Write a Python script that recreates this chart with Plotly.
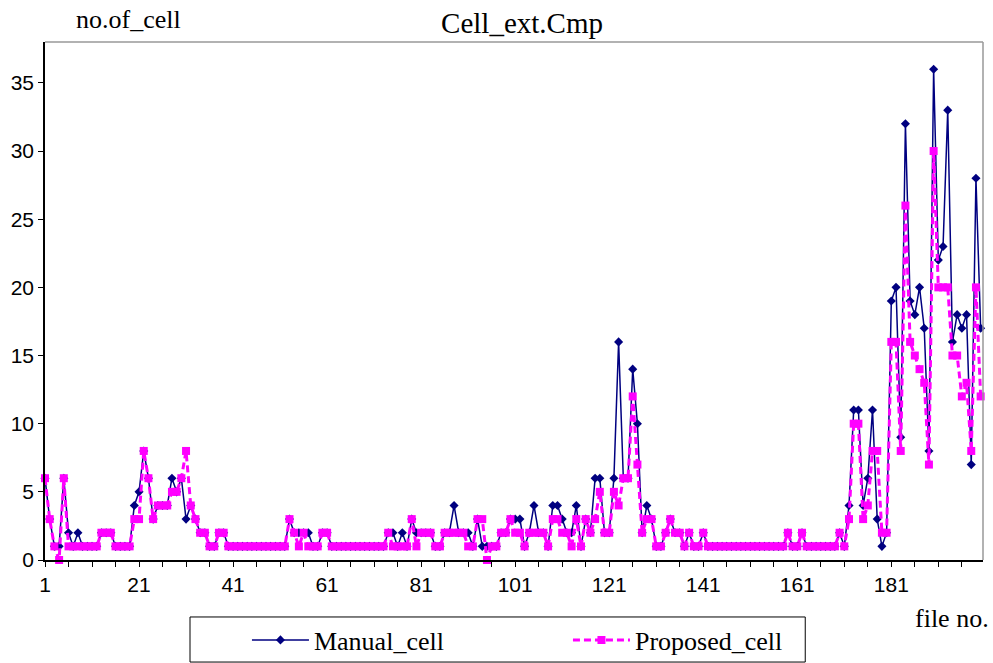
import plotly.graph_objects as go

file_no = list(range(1, 201))

manual_cell = [
    6, 3, 1, 1, 6, 2, 1, 2, 1, 1,
    1, 1, 2, 2, 2, 1, 1, 1, 1, 4,
    5, 8, 6, 3, 4, 4, 4, 6, 5, 6,
    3, 4, 3, 2, 2, 1, 1, 2, 2, 1,
    1, 1, 1, 1, 1, 1, 1, 1, 1, 1,
    1, 1, 3, 2, 2, 2, 2, 1, 1, 2,
    2, 1, 1, 1, 1, 1, 1, 1, 1, 1,
    1, 1, 1, 2, 2, 1, 2, 1, 3, 2,
    2, 2, 2, 1, 1, 2, 2, 4, 2, 2,
    2, 1, 3, 1, 1, 1, 1, 2, 2, 3,
    3, 3, 1, 2, 4, 2, 2, 1, 4, 4,
    3, 2, 2, 4, 1, 3, 2, 6, 6, 2,
    2, 6, 16, 6, 6, 14, 10, 2, 4, 3,
    1, 1, 2, 3, 2, 2, 1, 2, 1, 1,
    2, 1, 1, 1, 1, 1, 1, 1, 1, 1,
    1, 1, 1, 1, 1, 1, 1, 1, 2, 1,
    1, 2, 1, 1, 1, 1, 1, 1, 1, 2,
    1, 4, 11, 11, 4, 6, 11, 3, 1, 2,
    19, 20, 9, 32, 19, 18, 20, 17, 8, 36,
    22, 23, 33, 16, 18, 17, 18, 7, 28, 17,
]

proposed_cell = [
    6, 3, 1, 0, 6, 1, 1, 1, 1, 1,
    1, 1, 2, 2, 2, 1, 1, 1, 1, 3,
    3, 8, 6, 3, 4, 4, 4, 5, 5, 6,
    8, 4, 3, 2, 2, 1, 1, 2, 2, 1,
    1, 1, 1, 1, 1, 1, 1, 1, 1, 1,
    1, 1, 3, 2, 1, 2, 1, 1, 1, 2,
    2, 1, 1, 1, 1, 1, 1, 1, 1, 1,
    1, 1, 1, 2, 1, 1, 1, 1, 3, 1,
    2, 2, 2, 1, 1, 2, 2, 2, 2, 2,
    1, 1, 3, 3, 0, 1, 1, 2, 2, 3,
    2, 2, 1, 2, 2, 2, 2, 1, 3, 3,
    2, 2, 1, 3, 1, 3, 2, 3, 5, 2,
    2, 5, 4, 6, 6, 12, 7, 2, 3, 3,
    1, 1, 2, 3, 2, 2, 1, 2, 1, 1,
    2, 1, 1, 1, 1, 1, 1, 1, 1, 1,
    1, 1, 1, 1, 1, 1, 1, 1, 2, 1,
    1, 2, 1, 1, 1, 1, 1, 1, 1, 2,
    1, 3, 10, 10, 3, 4, 8, 8, 2, 2,
    16, 16, 8, 26, 16, 15, 14, 13, 7, 30,
    20, 20, 20, 15, 15, 12, 13, 8, 20, 12,
]

x_tick_vals = [1, 21, 41, 61, 81, 101, 121, 141, 161, 181]
x_tick_text = ["1", "21", "41", "61", "81", "101", "121", "141", "161", "181"]
y_tick_vals = [0, 5, 10, 15, 20, 25, 30, 35]

SERIF = "Liberation Serif"
SANS = "Liberation Sans"

fig = go.Figure()
fig.add_trace(go.Scatter(
    x=file_no, y=manual_cell, name="Manual_cell", mode="lines+markers",
    line=dict(color="#000080", width=1.5),
    marker=dict(symbol="diamond", size=7, color="#000080"),
    cliponaxis=False,
))
fig.add_trace(go.Scatter(
    x=file_no, y=proposed_cell, name="Proposed_cell", mode="lines+markers",
    line=dict(color="#FF00FF", width=3, dash="7px,4px"),
    marker=dict(symbol="square", size=8, color="#FF00FF"),
    cliponaxis=False,
))

fig.update_layout(
    width=993, height=663,
    margin=dict(l=45, r=10, t=42, b=103, autoexpand=False),
    paper_bgcolor="white", plot_bgcolor="white",
    showlegend=True,
    title=dict(text="Cell_ext.Cmp", x=0.5257, xanchor="center",
               yref="container", y=0.965, yanchor="middle",
               font=dict(family=SERIF, size=29, color="black")),
    legend=dict(orientation="h", xref="container", yref="container",
                x=0.2487, xanchor="left", y=0.0347, yanchor="middle",
                itemwidth=57, entrywidth=249, entrywidthmode="pixels",
                font=dict(family=SERIF, size=26, color="black"),
                bgcolor="rgba(0,0,0,0)", borderwidth=0),
    xaxis=dict(range=[1, 200.5], showgrid=False, zeroline=False,
               showline=True, linecolor="black", linewidth=1.5,
               tickmode="array", tickvals=x_tick_vals, ticktext=x_tick_text,
               ticks="outside", ticklen=5, tickcolor="black",
               minor=dict(tick0=1, dtick=5, ticks="outside", ticklen=5, tickcolor="black"),
               tickfont=dict(family=SANS, size=21, color="black")),
    yaxis=dict(range=[0, 38], showgrid=False, zeroline=False,
               showline=True, linecolor="black", linewidth=1.5,
               tickmode="array", tickvals=y_tick_vals,
               ticks="outside", ticklen=5, tickcolor="black",
               tickfont=dict(family=SANS, size=21, color="black")),
)

# grey top/right frame of plot area
fig.add_shape(type="line", xref="paper", yref="paper", x0=0, x1=1, y0=1, y1=1,
              line=dict(color="#999999", width=1.5))
fig.add_shape(type="line", xref="paper", yref="paper", x0=1, x1=1, y0=0, y1=1,
              line=dict(color="#999999", width=1.5))
# legend frame
fig.add_shape(type="rect", xref="paper", yref="paper",
              x0=0.1546, x1=0.8105, y0=-0.197, y1=-0.110,
              line=dict(color="black", width=1))

fig.add_annotation(text="no.of_cell", xref="paper", yref="paper", x=0.0885, y=1.044,
                   xanchor="center", yanchor="middle", showarrow=False,
                   font=dict(family=SERIF, size=26, color="black"))
fig.add_annotation(text="file no.", xref="paper", yref="paper", x=0.967, y=-0.112,
                   xanchor="center", yanchor="middle", showarrow=False,
                   font=dict(family=SERIF, size=26, color="black"))

fig.write_html("out.html", config={"displayModeBar": False},
               post_script="document.body.style.margin='0';")
